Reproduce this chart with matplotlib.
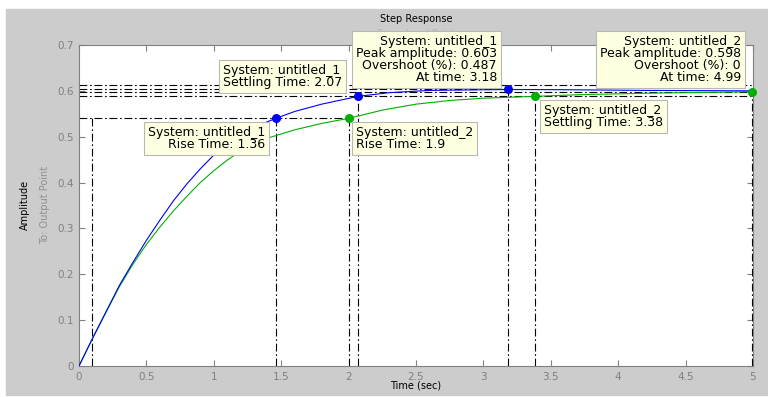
import matplotlib
matplotlib.use("Agg")
import matplotlib.pyplot as plt
from matplotlib.patches import Rectangle
from matplotlib.ticker import FuncFormatter, MultipleLocator

# step responses read as (time, amplitude) samples
t_1 = [0, 0.1, 0.2, 0.3, 0.4, 0.5, 0.6, 0.7, 0.8, 0.9, 1.0, 1.1, 1.2, 1.3,
       1.46, 1.6, 1.8, 2.07, 2.3, 2.6, 3.18, 3.6, 4.2, 5.0]
amp_1 = [0, 0.06, 0.118, 0.176, 0.226, 0.274, 0.318, 0.36, 0.397, 0.43,
         0.46, 0.487, 0.506, 0.521, 0.54, 0.555, 0.571, 0.588, 0.596, 0.601,
         0.603, 0.6025, 0.601, 0.6]
t_2 = [0, 0.1, 0.2, 0.3, 0.4, 0.5, 0.6, 0.7, 0.8, 0.9, 1.0, 1.1, 1.2, 1.3,
       1.4, 1.6, 1.8, 2.0, 2.25, 2.5, 2.75, 3.0, 3.38, 3.75, 4.25, 4.99]
amp_2 = [0, 0.06, 0.117, 0.173, 0.222, 0.265, 0.303, 0.338, 0.37, 0.4,
         0.426, 0.449, 0.469, 0.485, 0.497, 0.515, 0.529, 0.54, 0.558, 0.571,
         0.579, 0.584, 0.588, 0.592, 0.595, 0.598]

# characteristics (time, amplitude)
rise_start = 0.1
rise_1 = (1.46, 0.54)
rise_2 = (2.0, 0.54)
settle_1 = (2.07, 0.588)
settle_2 = (3.38, 0.588)
peak_1 = (3.18, 0.603)
peak_2 = (4.99, 0.598)
settle_band = [0.588, 0.612]
rise_time = [1.36, 1.9]
settle_time = [2.07, 3.38]
overshoot = [0.487, 0]

W, H = 768, 397
BLUE = "#0000ff"
GREEN = "#00b000"
GRAY = "#cccccc"
TIP = "#ffffe1"


def px(x, y):
    return x / W, 1 - y / H


fig = plt.figure(figsize=(W / 100, H / 100), dpi=100, facecolor="white")
fig.patches.append(Rectangle((6 / W, 2 / H), 1 - 6 / W, (H - 11) / H,
                             transform=fig.transFigure, color=GRAY,
                             zorder=-10))

ax = fig.add_axes([79 / W, 31 / H, 674 / W, 321 / H])
ax.set_facecolor("white")
ax.set_xlim(0, 5)
ax.set_ylim(0, 0.7)
ax.xaxis.set_major_locator(MultipleLocator(0.5))
ax.yaxis.set_major_locator(MultipleLocator(0.1))
fmt = FuncFormatter(lambda v, p: f"{v:g}")
ax.xaxis.set_major_formatter(fmt)
ax.yaxis.set_major_formatter(fmt)
ax.tick_params(direction="in", top=True, right=True, length=4, width=0.8,
               color="#808080", labelcolor="#808080", labelsize=7.5, pad=4)
for s in ax.spines.values():
    s.set_color("#808080")
    s.set_linewidth(0.8)

dash = dict(color="black", lw=0.8, dashes=[7, 2.5, 1.5, 2.5])
# rise time guides
ax.plot([0, rise_2[0]], [rise_1[1], rise_1[1]], **dash)
for x, top in [(rise_start, rise_1[1]), (rise_1[0], rise_1[1]),
               (rise_2[0], rise_2[1])]:
    ax.plot([x, x], [0, top], **dash)
# settling band and times
for lvl in settle_band:
    ax.plot([0, 5], [lvl, lvl], **dash)
for x, top in [settle_1, settle_2]:
    ax.plot([x, x], [0, top], **dash)
# peak guides
for x, top in [peak_1, peak_2]:
    ax.plot([0, x], [top, top], **dash)
    ax.plot([x, x], [0, top], **dash)

ax.plot(t_2, amp_2, color=GREEN, lw=0.8, zorder=3)
ax.plot(t_1, amp_1, color=BLUE, lw=0.8, zorder=4)
for pts, c in [([rise_1, settle_1, peak_1], BLUE),
               ([rise_2, settle_2, peak_2], GREEN)]:
    ax.plot([p[0] for p in pts], [p[1] for p in pts], "o", color=c,
            ms=5.5, zorder=5, clip_on=False)

fig.text(*px(416, 19), "Step Response", ha="center", va="center",
         fontsize=7, color="black")
fig.text(*px(416, 33), "From: Input Point", ha="center", va="center",
         fontsize=6.5, color="#b0b0b0", zorder=1)
fig.text(*px(416, 386), "Time (sec)", ha="center", va="center",
         fontsize=7, color="black")
fig.text(*px(25, 205), "Amplitude", rotation=90, ha="center", va="center",
         fontsize=7, color="black")
fig.text(*px(45, 205), "To: Output Point", rotation=90, ha="center",
         va="center", fontsize=7, color="#909090")

box = dict(boxstyle="square,pad=0.3", fc=TIP, ec="#b8b8b8", lw=0.8)
tips = [
    ((223, 64), "left",
     f"System: untitled_1\nSettling Time: {settle_time[0]:g}"),
    ((497, 35), "right",
     f"System: untitled_1\nPeak amplitude: {peak_1[1]:g}\n"
     f"Overshoot (%): {overshoot[0]:g}\nAt time: {peak_1[0]:g}"),
    ((741, 35), "right",
     f"System: untitled_2\nPeak amplitude: {peak_2[1]:g}\n"
     f"Overshoot (%): {overshoot[1]:g}\nAt time: {peak_2[0]:g}"),
    ((544, 104), "left",
     f"System: untitled_2\nSettling Time: {settle_time[1]:g}"),
    ((265, 126), "right",
     f"System: untitled_1\nRise Time: {rise_time[0]:g}"),
    ((356, 126), "left",
     f"System: untitled_2\nRise Time: {rise_time[1]:g}"),
]
for (x, y), ha, s in tips:
    fig.text(*px(x, y), s, ha=ha, va="top", multialignment=ha,
             fontsize=9, family="DejaVu Sans", linespacing=0.9,
             bbox=box, zorder=6)

fig.savefig("out.png", dpi=100, facecolor="white")
